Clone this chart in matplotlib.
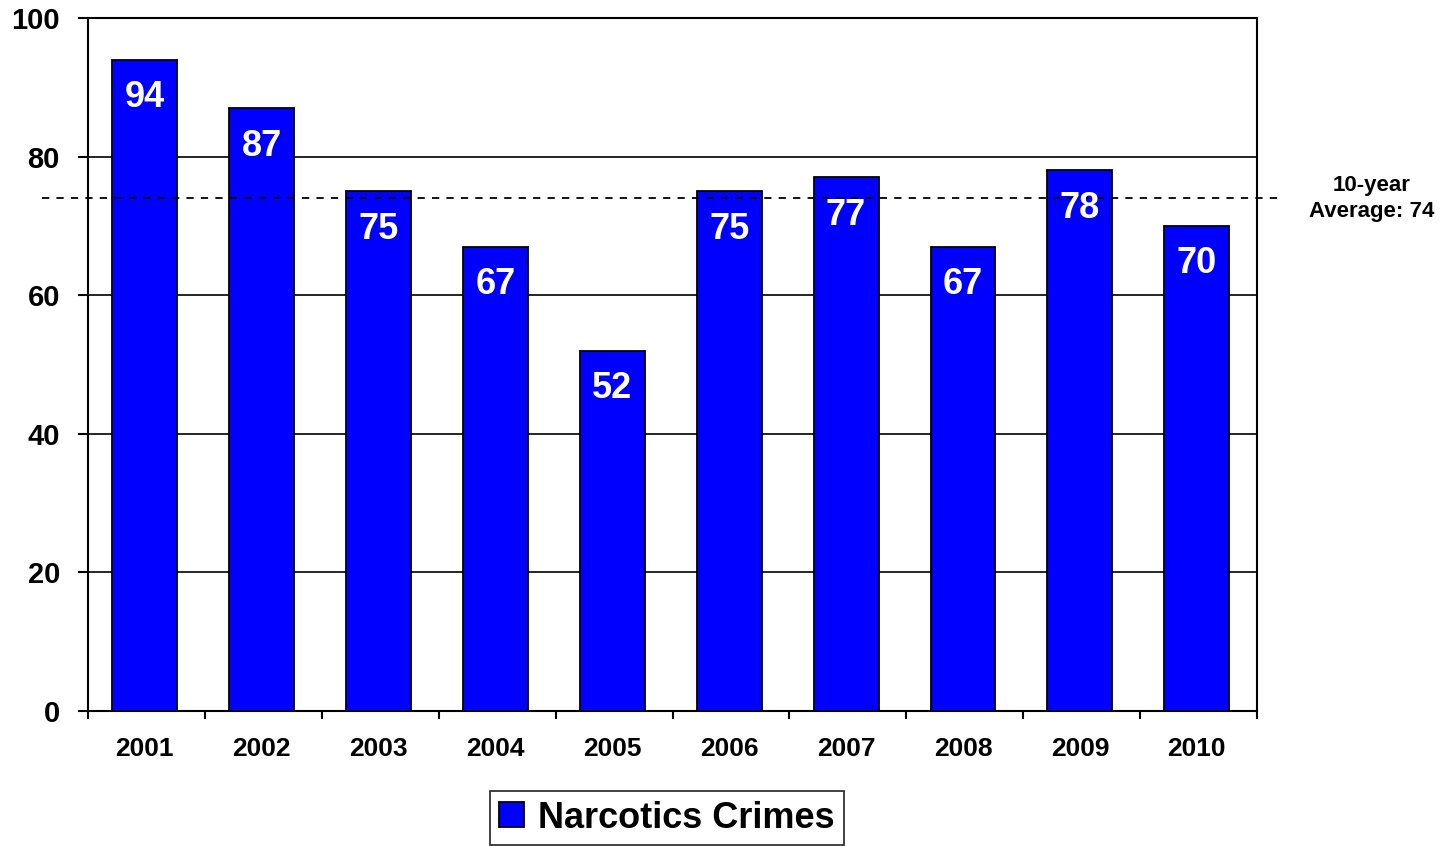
import matplotlib
matplotlib.use("Agg")
import matplotlib.pyplot as plt
import matplotlib.transforms as mtransforms
from matplotlib.patches import Patch

years = ["2001", "2002", "2003", "2004", "2005", "2006", "2007", "2008", "2009", "2010"]
crimes = [94, 87, 75, 67, 52, 75, 77, 67, 78, 70]
average = 74
series_name = "Narcotics Crimes"
avg_label = "10-year\nAverage: 74"
y_ticks = [0, 20, 40, 60, 80, 100]

plt.rcParams['font.family'] = ['Liberation Sans', 'DejaVu Sans']
plt.rcParams['font.weight'] = 'bold'

fig = plt.figure(figsize=(14.45, 8.46), dpi=100)
ax = fig.add_axes([88/1445, 1 - 711/846, (1257-88)/1445, (711-18)/846])

x = list(range(len(years)))
ax.bar(x, crimes, width=0.555, color='#0000FF', edgecolor='black', linewidth=1.3, zorder=3)

ax.set_xlim(-0.485, len(years) - 0.485)
ax.set_ylim(0, 100)
ax.set_yticks(y_ticks)
ax.set_yticklabels([str(t) for t in y_ticks], fontsize=21, fontweight='bold')
ax.yaxis.grid(True, color='black', linewidth=1.2, zorder=0)
ax.set_axisbelow(True)

ax.set_xticks(x)
ax.set_xticklabels(years, fontsize=19, fontweight='bold')
ax.tick_params(axis='x', length=0, pad=19)
ax.set_xticks([i - 0.485 for i in range(len(years) + 1)], minor=True)
ax.tick_params(axis='x', which='minor', length=6, width=1.5, direction='out')
ax.tick_params(axis='y', length=7.2, width=1.5, pad=13)
for sp in ax.spines.values():
    sp.set_linewidth(1.5)

offset = mtransforms.ScaledTranslation(0, -38/100, fig.dpi_scale_trans)
for xi, v in zip(x, crimes):
    ax.text(xi, v, str(v), transform=ax.transData + offset, ha='center', va='center',
            color='white', fontsize=26, fontweight='bold', zorder=5)

ax.plot([-0.875, 9.715], [average, average], linestyle=(0, (4, 4)), color='black', linewidth=1.3,
        zorder=4, clip_on=False)
ax.text(10.495, average, avg_label, ha='center', va='center', fontsize=16, fontweight='bold',
        linespacing=1.3)

handle = Patch(facecolor='#0000FF', edgecolor='black', linewidth=1.3)
leg = fig.legend([handle], [series_name], loc='center', bbox_to_anchor=(667/1445, 1 - 818/846),
                 frameon=True, fancybox=False, edgecolor='black',
                 handlelength=0.68, handleheight=0.68, handletextpad=0.4, borderpad=0.25,
                 borderaxespad=0, prop={'weight': 'bold', 'size': 26})
leg.get_frame().set_linewidth(1.3)

fig.savefig("out.png", dpi=100)
